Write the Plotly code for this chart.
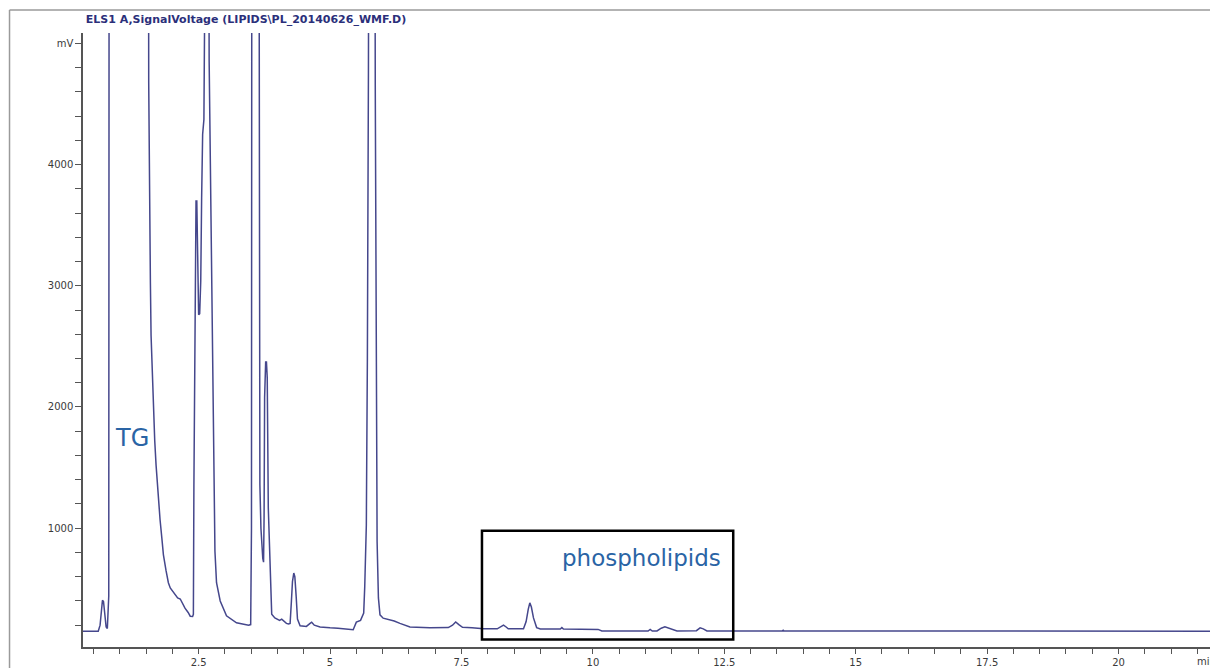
import plotly.graph_objects as go

# Retention time (min) and ELSD signal (mV)
time_min = [
    0.30, 0.59, 0.625, 0.645, 0.67, 0.69, 0.715, 0.74, 0.763, 0.775, 0.79, 0.80,
    1.54, 1.55, 1.563, 1.582, 1.595, 1.62, 1.639, 1.665, 1.69, 1.715, 1.741,
    1.766, 1.80, 1.83, 1.88, 1.924, 1.96, 2.05, 2.10, 2.15, 2.19, 2.24, 2.30,
    2.34, 2.385, 2.40, 2.41, 2.43, 2.45, 2.465, 2.48, 2.50, 2.52, 2.54, 2.557,
    2.576, 2.60, 2.62, 2.675, 2.70, 2.745, 2.778, 2.797, 2.81, 2.84, 2.91,
    3.03, 3.22, 3.45, 3.49, 3.505, 3.515, 3.64, 3.65, 3.665, 3.685, 3.70,
    3.72, 3.735, 3.745, 3.755, 3.775, 3.79, 3.805, 3.825, 3.85, 3.875, 3.89,
    3.95, 4.04, 4.08, 4.12, 4.17, 4.21, 4.24, 4.265, 4.285, 4.31, 4.33, 4.355,
    4.38, 4.43, 4.55, 4.62, 4.65, 4.70, 4.81, 5.00, 5.15, 5.44, 5.50, 5.58,
    5.64, 5.66, 5.69, 5.71, 5.73, 5.75, 5.845, 5.86, 5.885, 5.895, 5.92, 5.95,
    6.01, 6.12, 6.22, 6.33, 6.52, 6.90, 7.25, 7.33, 7.39, 7.45, 7.52, 7.70,
    7.92, 8.18, 8.25, 8.30, 8.35, 8.39, 8.68, 8.73, 8.77, 8.80, 8.83, 8.87,
    8.93, 9.00, 9.38, 9.41, 9.44, 10.10, 10.17, 11.05, 11.09, 11.13, 11.22,
    11.30, 11.37, 11.45, 11.60, 11.97, 12.04, 12.10, 12.17, 13.60, 13.62,
    13.64, 13.70, 13.72, 13.74, 13.95, 13.97, 13.99, 14.50, 14.52, 14.54, 21.80,
]
signal_mv = [
    150, 150, 200, 330, 405, 395, 300, 185, 173, 400, 440, 9000,
    9000, 4680, 3700, 3030, 2590, 2270, 1990, 1720, 1520, 1360, 1200,
    1070, 918, 780, 650, 550, 507, 450, 425, 416, 380, 340, 305,
    274, 272, 290, 1360, 2990, 3700, 3700, 3300, 2760, 2770, 3040, 3730,
    4250, 4370, 9000, 9000, 4850, 3340, 1980, 1360, 810, 550, 400,
    277, 220, 200, 205, 1000, 9000, 9000, 3350, 1360, 1000, 840,
    750, 720, 1100, 2080, 2370, 2370, 2240, 1170, 780, 500, 290,
    260, 240, 250, 235, 215, 210, 215, 400, 560, 630, 600, 440,
    250, 195, 190, 215, 225, 200, 185, 178, 175, 162, 225, 240,
    300, 520, 1025, 2400, 4760, 9000, 9000, 4660, 2370, 890, 425, 285,
    258, 245, 235, 215, 185, 178, 180, 200, 227, 205, 182, 178,
    170, 170, 190, 200, 185, 170, 170, 230, 330, 384, 350, 260,
    180, 168, 168, 180, 168, 165, 152, 152, 165, 152, 152,
    175, 186, 172, 152, 155, 178, 170, 152, 152, 158,
    152, 152, 158, 152, 152, 158, 152, 152, 158, 152, 150,
]

x_tick_vals = [2.5, 5, 7.5, 10, 12.5, 15, 17.5, 20]
x_tick_text = ["2.5", "5", "7.5", "10", "12.5", "15", "17.5", "20"]
y_tick_vals = [1000, 2000, 3000, 4000, 5000]
y_tick_text = ["1000", "2000", "3000", "4000", "mV"]

title_text = "ELS1 A,SignalVoltage (LIPIDS\\PL_20140626_WMF.D)"
peak_labels = ["TG", "phospholipids"]
label_time = [1.233, 10.92]
label_mv = [1740, 754]
label_size = [24, 23]
box_time = [7.89, 12.67]
box_mv = [82, 978]

line_color = "#45478c"
axis_color = "#555555"
tick_font = dict(family="DejaVu Sans", size=10, color="#3a3a3a")

fig = go.Figure()
fig.add_trace(go.Scatter(
    x=time_min, y=signal_mv, mode="lines",
    line=dict(color=line_color, width=1.5),
    hoverinfo="x+y", showlegend=False,
))

fig.update_layout(
    width=1210, height=668,
    margin=dict(l=83, r=0, t=33, b=19),
    paper_bgcolor="white", plot_bgcolor="white",
    showlegend=False,
    title=dict(text=title_text, x=246 / 1210, y=1 - 19 / 668,
               xanchor="center", yanchor="middle",
               font=dict(family="DejaVu Sans", size=11, color="#2b2f7a",
                         weight="bold")),
)

fig.update_xaxes(
    range=[0.30, 21.74], showgrid=False, zeroline=False,
    showline=True, linecolor=axis_color, linewidth=1.5,
    ticks="outside", ticklen=5, tickwidth=1, tickcolor=axis_color,
    tickmode="array", tickvals=x_tick_vals, ticktext=x_tick_text,
    tickfont=tick_font,
    minor=dict(tickmode="linear", tick0=0, dtick=0.5, ticks="outside",
               ticklen=5, tickwidth=1, tickcolor=axis_color, showgrid=False),
)
fig.update_yaxes(
    range=[20, 5085], showgrid=False, zeroline=False,
    showline=True, linecolor=axis_color, linewidth=1.5,
    ticks="outside", ticklen=6, tickwidth=1, tickcolor=axis_color,
    tickmode="array", tickvals=y_tick_vals, ticktext=y_tick_text,
    tickfont=tick_font,
    minor=dict(tickmode="linear", tick0=0, dtick=200, ticks="outside",
               ticklen=6, tickwidth=1, tickcolor=axis_color, showgrid=False),
)

# x-axis unit label at the right end (cut off by the page edge, as in the source)
fig.add_annotation(text="min", x=21.46, xref="x", xanchor="left",
                   y=0, yref="paper", yanchor="top", yshift=-7,
                   showarrow=False, font=tick_font)

for txt, tx, ty, sz in zip(peak_labels, label_time, label_mv, label_size):
    fig.add_annotation(text=txt, x=tx, y=ty, xref="x", yref="y",
                       showarrow=False, xanchor="center", yanchor="middle",
                       font=dict(family="DejaVu Sans", size=sz, color="#2a64a5"))

# phospholipid region box
fig.add_shape(type="rect", xref="x", yref="y",
              x0=box_time[0], x1=box_time[1], y0=box_mv[0], y1=box_mv[1],
              line=dict(color="black", width=2.5), fillcolor="rgba(0,0,0,0)")

# outer light-grey frame of the screenshot
fig.add_shape(type="line", xref="paper", yref="paper",
              x0=-0.0652, x1=-0.0652, y0=-0.08, y1=1.0373,
              line=dict(color="#9a9a9a", width=1.5))
fig.add_shape(type="line", xref="paper", yref="paper",
              x0=-0.0652, x1=1.02, y0=1.0373, y1=1.0373,
              line=dict(color="#9a9a9a", width=1.5))

fig.write_html("out.html",
               config={"displayModeBar": False},
               post_script="document.body.style.margin='0px';"
                           "document.body.style.overflow='hidden';")
